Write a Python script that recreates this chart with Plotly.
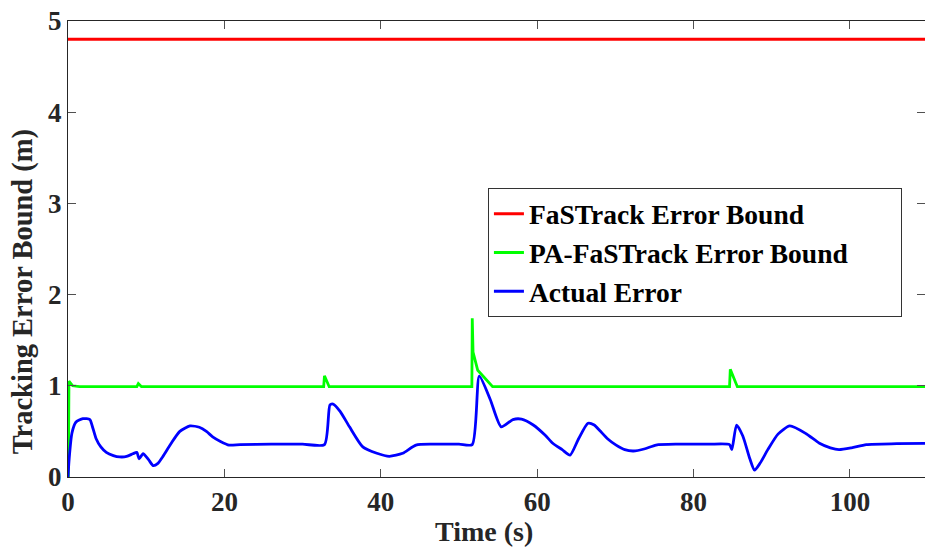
import plotly.graph_objects as go

# FaSTrack bound (constant)
t_red = [0, 110]
v_red = [4.8, 4.8]

# PA-FaSTrack error bound
t_green = [0, 0.05, 0.12, 0.6, 1.5, 8.8, 9.0, 9.4, 32.7, 32.8, 33.4, 51.65, 51.7, 51.8,
           52.4, 53.5, 54.3, 84.6, 84.7, 85.6, 110]
v_green = [0, 0, 1.05, 1.0, 0.99, 0.99, 1.025, 0.99, 0.99, 1.11, 0.99, 0.99, 1.74, 1.37,
           1.17, 1.06, 0.99, 0.99, 1.18, 0.99, 0.99]

# Actual tracking error
t_blue = [0, 0.15, 0.5, 1.0, 1.9, 2.8, 3.1, 3.6, 4.2, 4.9, 5.8, 6.6, 7.5, 8.3, 8.8, 9.1,
          9.6, 10.3, 10.9, 11.5, 12.1, 13.2, 14.3, 15.6, 16.8, 17.7, 18.5, 19.5, 20.6, 22,
          26, 30, 32.8, 33.5, 33.9, 34.8, 36.0, 37.7, 39.5, 41.1, 42.8, 44.5, 46.7, 50,
          51.7, 52.6, 54, 55.4, 56.9, 58, 59.5, 61, 62.0, 63.2, 64.2, 65.3, 66.5, 67.3,
          68.0, 69, 70.1, 71.2, 72.3, 73.8, 75.2, 78, 82, 84.6, 84.9, 85.5, 86.3, 87.2,
          87.8, 88.5, 89.5, 90.8, 92.3, 94.4, 96.1, 97.5, 98.6, 100.2, 102.1, 106, 110]
v_blue = [0, 0.2, 0.48, 0.6, 0.64, 0.63, 0.56, 0.42, 0.33, 0.27, 0.235, 0.22, 0.225, 0.255,
          0.27, 0.2, 0.255, 0.19, 0.125, 0.15, 0.22, 0.37, 0.5, 0.56, 0.545, 0.5, 0.44,
          0.39, 0.35, 0.355, 0.36, 0.36, 0.355, 0.79, 0.80, 0.72, 0.55, 0.33, 0.26, 0.227,
          0.26, 0.35, 0.36, 0.36, 0.355, 1.105, 0.85, 0.55, 0.63, 0.635, 0.57, 0.46, 0.37,
          0.3, 0.24, 0.42, 0.59, 0.57, 0.51, 0.42, 0.35, 0.3, 0.285, 0.31, 0.35, 0.36, 0.36,
          0.355, 0.3, 0.57, 0.45, 0.2, 0.075, 0.15, 0.3, 0.47, 0.56, 0.475, 0.37, 0.32, 0.30,
          0.32, 0.355, 0.365, 0.37]

series_names = ["FaSTrack Error Bound", "PA-FaSTrack Error Bound", "Actual Error"]

FONT = "Liberation Serif, Times New Roman, serif"
TXT = "#262626"
PAD = "\u00a0" * 7  # widen legend box to match reference

fig = go.Figure()
fig.add_trace(go.Scatter(x=t_red, y=v_red, mode="lines", name=f"<b>{series_names[0]}</b>",
                         line=dict(color="#ff0000", width=2.8)))
fig.add_trace(go.Scatter(x=t_green, y=v_green, mode="lines",
                         name=f"<b>{series_names[1]}</b>{PAD}",
                         line=dict(color="#00ff00", width=2.8)))
fig.add_trace(go.Scatter(x=t_blue, y=v_blue, mode="lines", name=f"<b>{series_names[2]}</b>",
                         line=dict(color="#0000ff", width=2.8, shape="spline", smoothing=0.6)))

axis_common = dict(
    showgrid=False, zeroline=False, showline=True, linecolor=TXT, linewidth=1.2,
    ticks="inside", ticklen=8, tickcolor="#505050", tickwidth=1,
    tickfont=dict(family=FONT, size=27, color=TXT, weight="bold"),
)

fig.update_layout(
    width=925, height=550,
    margin=dict(l=68, r=0, t=21, b=73),
    plot_bgcolor="white", paper_bgcolor="white",
    font=dict(family=FONT, color=TXT),
    xaxis=dict(range=[0, 109.6], tickvals=[0, 20, 40, 60, 80, 100], mirror="ticks",
               **axis_common),
    yaxis=dict(range=[0, 5], tickvals=[0, 1, 2, 3, 4, 5], mirror="ticks",
               **axis_common),
    legend=dict(x=0.49, y=0.633, xanchor="left", yanchor="top",
                bordercolor="#333333", borderwidth=1, bgcolor="white",
                font=dict(family=FONT, size=27.5, color="black"),
                tracegroupgap=0, itemwidth=30),
    showlegend=True,
    annotations=[
        dict(text="<b>Time (s)</b>", xref="paper", yref="paper", x=0.485, y=-0.1587,
             xanchor="center", yanchor="bottom", showarrow=False,
             font=dict(family=FONT, size=28, color=TXT)),
        dict(text="<b>Tracking Error Bound (m)</b>", xref="paper", yref="paper",
             x=-0.0525, y=0.405, xanchor="center", yanchor="middle", textangle=-90,
             showarrow=False, font=dict(family=FONT, size=28.5, color=TXT)),
    ],
)

fig.write_html("out.html")
